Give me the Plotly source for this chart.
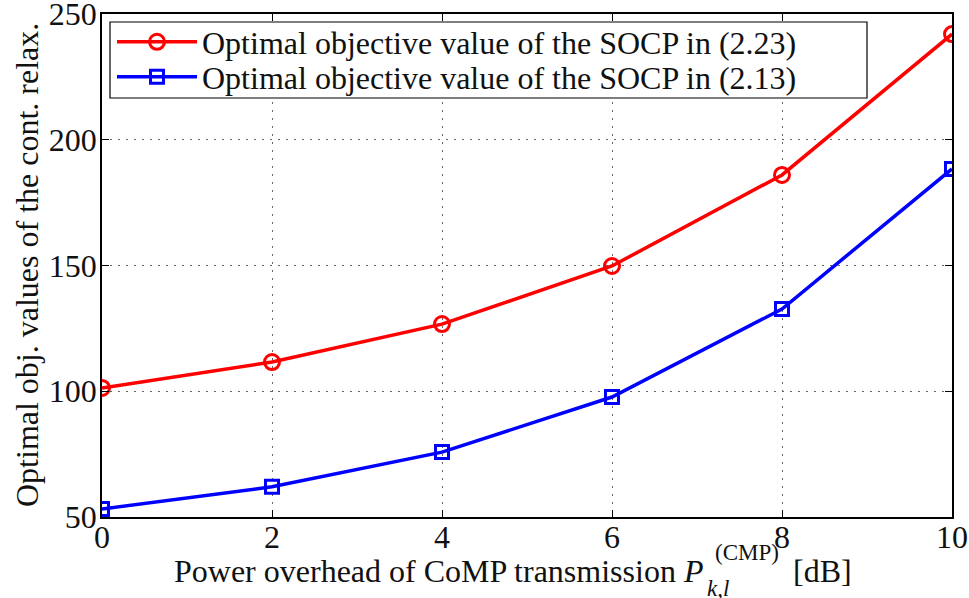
import plotly.graph_objects as go

x_vals = [0, 2, 4, 6, 8, 10]
socp_223 = [101.3, 111.6, 126.7, 149.8, 186.0, 242.0]
socp_213 = [53.2, 62.0, 75.8, 97.7, 132.7, 188.4]
series_names = ["Optimal objective value of the SOCP in (2.23)",
                "Optimal objective value of the SOCP in (2.13)"]
x_ticks = [0, 2, 4, 6, 8, 10]
y_ticks = [50, 100, 150, 200, 250]

FONT = "Liberation Serif, Times New Roman, serif"
FS = 32

# plot area in pixels (for placing title pieces)
L, R, T, B = 102, 952, 14, 517
W, H = 969, 598


def px(xp):
    return (xp - L) / (R - L)


def py(yp):
    return (B - yp) / (B - T)


fig = go.Figure()
fig.add_trace(go.Scatter(
    x=x_vals, y=socp_223, name=series_names[0], mode="lines+markers",
    line=dict(color="#ff0000", width=3.5), legend="legend",
    marker=dict(symbol="circle-open", size=15, color="#ff0000", line=dict(width=3)),
))
fig.add_trace(go.Scatter(
    x=x_vals, y=socp_213, name=series_names[1], mode="lines+markers",
    line=dict(color="#0000ff", width=3.5), legend="legend2",
    marker=dict(symbol="square-open", size=13, color="#0000ff", line=dict(width=3)),
))

axis_common = dict(
    showline=True, linecolor="black", linewidth=1.5, mirror="ticks",
    ticks="inside", ticklen=7, tickcolor="black", automargin=False,
    ticklabeloverflow="allow",
    showgrid=True, gridcolor="#666666", griddash="2px,6px", gridwidth=1,
    zeroline=False, tickfont=dict(family=FONT, size=FS, color="#111"),
)

annotations = [
    dict(text="Power overhead of CoMP transmission <i>P</i>", x=px(705), y=py(571),
         xanchor="right", yanchor="middle", font=dict(family=FONT, size=FS, color="#111")),
    dict(text="(CMP)", x=px(713), y=py(552),
         xanchor="left", yanchor="middle", font=dict(family=FONT, size=23, color="#111")),
    dict(text="<i>k,l</i>", x=px(705), y=py(588),
         xanchor="left", yanchor="middle", font=dict(family=FONT, size=23, color="#111")),
    dict(text="[dB]", x=px(791), y=py(571),
         xanchor="left", yanchor="middle", font=dict(family=FONT, size=FS, color="#111")),
    dict(text="Optimal obj. values of the cont. relax.", x=px(27), y=py(265),
         textangle=-90, xanchor="center", yanchor="middle",
         font=dict(family=FONT, size=FS, color="#111")),
]
for a in annotations:
    a.update(xref="paper", yref="paper", showarrow=False)

legend_common = dict(xanchor="left", yanchor="middle", borderwidth=0,
                     bgcolor="rgba(0,0,0,0)",
                     font=dict(family=FONT, size=FS, color="#111"),
                     itemwidth=80)

fig.update_layout(
    template="none",
    width=W, height=H,
    margin=dict(l=L, r=W - R, t=T, b=H - B),
    paper_bgcolor="white", plot_bgcolor="white",
    font=dict(family=FONT, color="#111"),
    xaxis=dict(range=[0, 10], tickvals=x_ticks, ticklabelstandoff=-9, **axis_common),
    yaxis=dict(range=[50, 250], tickvals=y_ticks, ticklabelstandoff=-3, **axis_common),
    legend=dict(x=px(112), y=py(42), **legend_common),
    legend2=dict(x=px(112), y=py(77), **legend_common),
    shapes=[dict(type="rect", xref="paper", yref="paper",
                 x0=px(110), x1=px(867), y0=py(98), y1=py(22),
                 line=dict(color="black", width=1.2), fillcolor="white", layer="above")],
    annotations=annotations,
    showlegend=True,
)

fig.write_html("out.html", config={"displayModeBar": False},
               post_script="document.body.style.margin='0px';")
